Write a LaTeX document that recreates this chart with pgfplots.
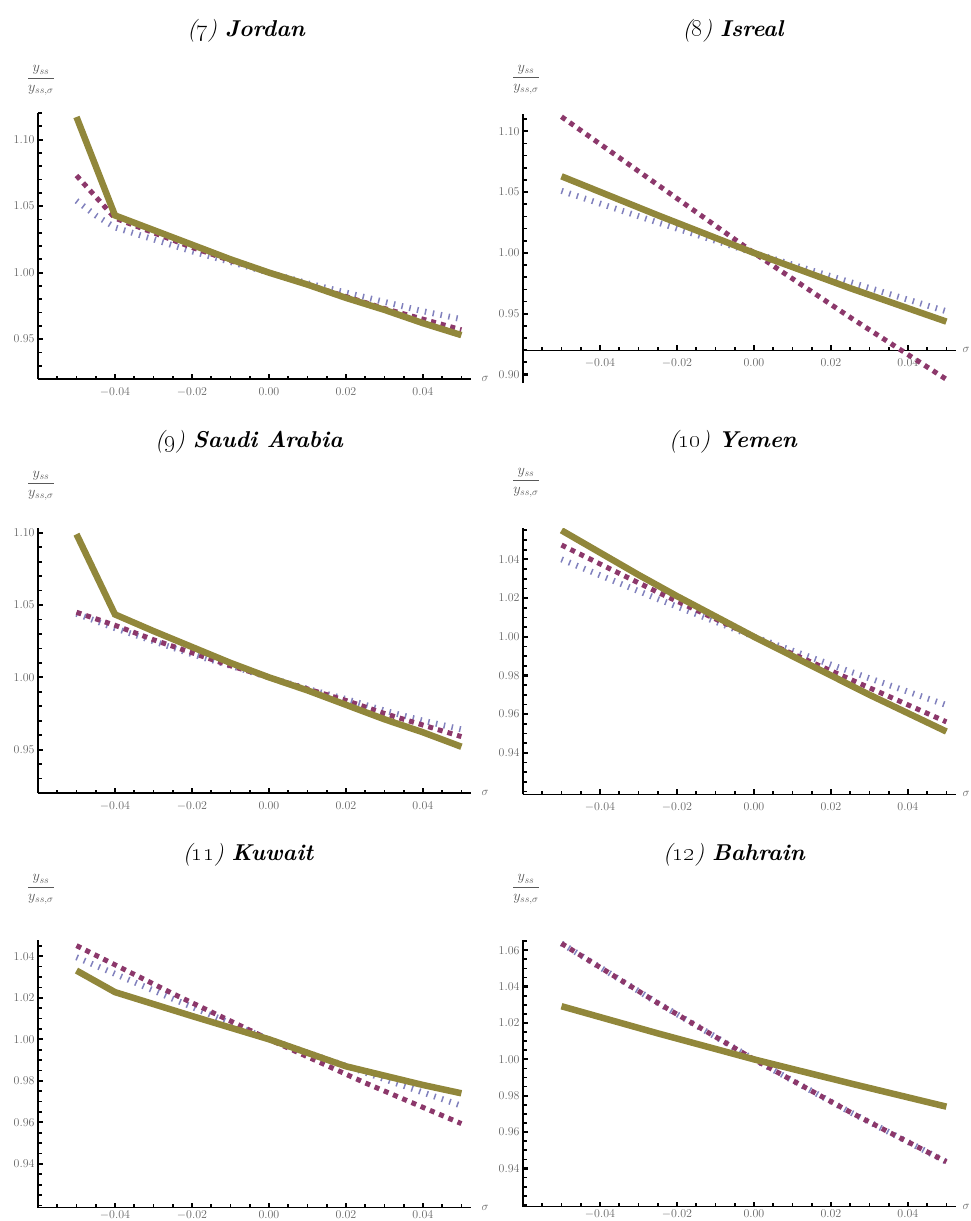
\documentclass[border=0pt]{standalone}
\usepackage{pgfplots}
\pgfplotsset{compat=1.18}

% Mathematica-style default plot colours
\definecolor{mblue}{rgb}{0.24,0.24,0.6}
\definecolor{mpurple}{rgb}{0.55,0.22,0.42}
\definecolor{molive}{rgb}{0.57,0.53,0.23}

\pgfplotsset{
  mma/.style={
    scale only axis,
    width=433bp,
    xmin=-0.06, xmax=0.0525,
    axis x line=bottom, axis y line=left,
    axis line style={line width=1.2bp, black, -},
    xtick={-0.04,-0.02,0,0.02,0.04},
    minor xtick={-0.06,-0.055,...,0.051},
    tick align=inside,
    major tick length=5bp, minor tick length=3.5bp,
    tick style={black, line width=2.2bp},
    minor tick style={line width=1.7bp},
    scaled x ticks=false, scaled y ticks=false,
    tick label style={font=\fontsize{12}{14}\selectfont, text=black!60},
    x tick label style={yshift=-5bp, /pgf/number format/fixed,
      /pgf/number format/fixed zerofill, /pgf/number format/precision=2},
    y tick label style={/pgf/number format/fixed,
      /pgf/number format/fixed zerofill, /pgf/number format/precision=2},
    xlabel={$\sigma$},
    ylabel={$\displaystyle\frac{y_{ss}}{y_{ss,\sigma}}$},
    every axis x label/.style={at={(rel axis cs:1,0)}, anchor=west, xshift=7bp,
      font=\fontsize{13}{15}\selectfont, text=black!60},
    every axis y label/.style={at={(rel axis cs:0,1)}, anchor=south, xshift=3bp,
      font=\fontsize{14}{16}\selectfont, text=black!65},
  },
  % right-hand column: keep the axis label inside the page
  rightcol/.style={x label style={xshift=-4bp}},
  % bottom row: tick labels sit a little closer to the axis
  bottomrow/.style={x tick label style={yshift=5bp}},
  sBlue/.style={mblue!65!white, line width=6bp, dash pattern=on 1.5bp off 6.5bp},
  sPurp/.style={mpurple, line width=5bp, dash pattern=on 5bp off 5bp},
  sOlive/.style={molive, line width=6.5bp},
}

\newcommand{\ptitle}[2]{\fontsize{23}{27}\selectfont\itshape(\oldstylenums{#1})~\textbf{#2}}

\begin{document}
\begin{tikzpicture}
\useasboundingbox (0,0) rectangle (971bp,-1221bp);

% ---------------- (7) Jordan ----------------
\node at (246bp,-31bp) {\ptitle{7}{Jordan}};
\begin{axis}[mma, at={(38bp,-379bp)}, anchor=south west,
  height=266bp, ymin=0.92, ymax=1.12,
  ytick={0.95,1.00,1.05,1.10}, minor ytick={0.92,0.93,...,1.121},
  ylabel style={yshift=14bp}]
\addplot[sBlue] coordinates {(-0.05,1.054) (-0.045,1.043) (-0.04,1.034) (-0.03,1.025) (-0.02,1.016) (-0.01,1.008) (0,1.000) (0.01,0.992) (0.02,0.985) (0.03,0.978) (0.04,0.971) (0.05,0.965)};
\addplot[sPurp] coordinates {(-0.05,1.073) (-0.04,1.041) (-0.03,1.030) (-0.02,1.019) (-0.01,1.009) (0,1.000) (0.01,0.991) (0.02,0.982) (0.03,0.973) (0.04,0.965) (0.05,0.957)};
\addplot[sOlive] coordinates {(-0.05,1.117) (-0.04,1.043) (-0.03,1.032) (-0.02,1.021) (-0.01,1.010) (0,1.000) (0.01,0.991) (0.02,0.981) (0.03,0.972) (0.04,0.962) (0.05,0.953)};
\end{axis}

% ---------------- (8) Isreal ----------------
\node at (733bp,-31bp) {\ptitle{8}{Isreal}};
\begin{axis}[mma, at={(523bp,-383bp)}, anchor=south west,
  height=268.7bp, ymin=0.893, ymax=1.114,
  axis x line shift=-32.8bp,
  ytick={0.90,0.95,1.00,1.05,1.10}, minor ytick={0.90,0.91,...,1.111},
  every axis x label/.style={at={(axis cs:0.0525,0.92)}, anchor=west, xshift=3bp,
      font=\fontsize{13}{15}\selectfont, text=black!60},
  ylabel style={yshift=16bp}]
\addplot[sBlue] coordinates {(-0.05,1.051) (-0.025,1.025) (0,1.000) (0.025,0.976) (0.05,0.952)};
\addplot[sPurp] coordinates {(-0.05,1.112) (-0.025,1.056) (0,1.000) (0.025,0.947) (0.05,0.896)};
\addplot[sOlive] coordinates {(-0.05,1.063) (-0.025,1.031) (0,1.000) (0.025,0.971) (0.05,0.9435)};
\end{axis}

% ---------------- (9) Saudi Arabia ----------------
\node at (249bp,-442bp) {\ptitle{9}{Saudi Arabia}};
\begin{axis}[mma, at={(38bp,-793bp)}, anchor=south west,
  height=264.6bp, ymin=0.92, ymax=1.103,
  ytick={0.95,1.00,1.05,1.10}, minor ytick={0.92,0.93,...,1.101},
  ylabel style={yshift=24bp}]
\addplot[sBlue] coordinates {(-0.05,1.044) (-0.04,1.034) (-0.03,1.025) (-0.02,1.016) (-0.01,1.008) (0,1.000) (0.01,0.992) (0.02,0.985) (0.03,0.977) (0.04,0.970) (0.05,0.964)};
\addplot[sPurp] coordinates {(-0.05,1.045) (-0.04,1.036) (-0.03,1.026) (-0.02,1.017) (-0.01,1.008) (0,1.000) (0.01,0.992) (0.02,0.984) (0.03,0.975) (0.04,0.967) (0.05,0.959)};
\addplot[sOlive] coordinates {(-0.05,1.099) (-0.04,1.0435) (-0.03,1.032) (-0.02,1.021) (-0.01,1.010) (0,1.000) (0.01,0.991) (0.02,0.981) (0.03,0.971) (0.04,0.962) (0.05,0.952)};
\end{axis}

% ---------------- (10) Yemen ----------------
\node at (733bp,-442bp) {\ptitle{10}{Yemen}};
\begin{axis}[mma, rightcol, at={(523bp,-794.4bp)}, anchor=south west,
  height=266bp, ymin=0.9185, ymax=1.056,
  ytick={0.94,0.96,0.98,1.00,1.02,1.04}, minor ytick={0.92,0.925,...,1.056},
  ylabel style={yshift=27bp}]
\addplot[sBlue] coordinates {(-0.05,1.040) (-0.025,1.0195) (0,1.000) (0.025,0.982) (0.05,0.9647)};
\addplot[sPurp] coordinates {(-0.05,1.0474) (-0.025,1.023) (0,1.000) (0.025,0.978) (0.05,0.956)};
\addplot[sOlive] coordinates {(-0.05,1.055) (-0.04,1.0435) (-0.03,1.032) (-0.02,1.021) (-0.01,1.0105) (0,1.000) (0.01,0.990) (0.02,0.980) (0.03,0.970) (0.04,0.9605) (0.05,0.951)};
\end{axis}

% ---------------- (11) Kuwait ----------------
\node at (248bp,-855bp) {\ptitle{11}{Kuwait}};
\begin{axis}[mma, bottomrow, at={(38bp,-1207.5bp)}, anchor=south west,
  height=267.5bp, ymin=0.919, ymax=1.0478,
  ytick={0.94,0.96,0.98,1.00,1.02,1.04}, minor ytick={0.92,0.925,...,1.046},
  ylabel style={yshift=32bp}]
\addplot[sBlue] coordinates {(-0.05,1.0395) (-0.025,1.0195) (0,1.000) (0.025,0.984) (0.05,0.968)};
\addplot[sPurp] coordinates {(-0.05,1.0451) (-0.025,1.022) (0,1.000) (0.025,0.979) (0.05,0.9594)};
\addplot[sOlive] coordinates {(-0.05,1.0331) (-0.04,1.0227) (-0.02,1.0112) (0,1.000) (0.02,0.987) (0.04,0.978) (0.05,0.974)};
\end{axis}

% ---------------- (12) Bahrain ----------------
\node at (734bp,-855bp) {\ptitle{12}{Bahrain}};
\begin{axis}[mma, rightcol, bottomrow, at={(523bp,-1206.7bp)}, anchor=south west,
  height=266.7bp, ymin=0.919, ymax=1.0656,
  ytick={0.94,0.96,0.98,1.00,1.02,1.04,1.06}, minor ytick={0.92,0.925,...,1.066},
  ylabel style={yshift=32bp}]
\addplot[sBlue] coordinates {(-0.05,1.0637) (-0.025,1.031) (0,1.000) (0.025,0.971) (0.05,0.9437)};
\addplot[sPurp] coordinates {(-0.05,1.0637) (-0.025,1.031) (0,1.000) (0.025,0.971) (0.05,0.9437)};
\addplot[sOlive] coordinates {(-0.05,1.0292) (-0.025,1.0143) (0,1.000) (0.025,0.9868) (0.05,0.974)};
\end{axis}
\end{tikzpicture}
\end{document}
